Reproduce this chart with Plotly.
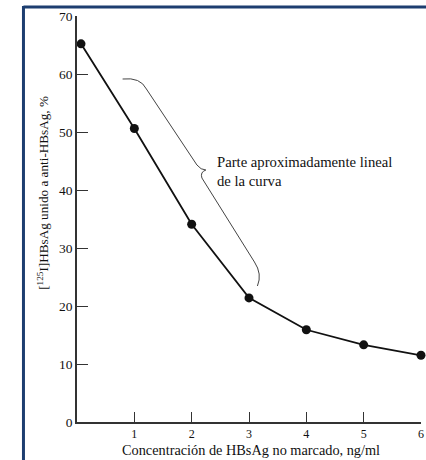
import plotly.graph_objects as go

# Data
conc = [0.07, 1, 2, 3, 4, 5, 6]
bound = [65.2, 50.6, 34.1, 21.4, 15.9, 13.3, 11.5]
x_ticks = [1, 2, 3, 4, 5, 6]
y_ticks = [0, 10, 20, 30, 40, 50, 60, 70]

W, H = 426, 460
L, R, T, B = 77, 2, 16, 38
pw, ph = W - L - R, H - T - B

def px_x(p):
    return (p - L) / pw

def px_y(p):
    return (H - B - p) / ph

SERIF = "Liberation Serif"

fig = go.Figure()
fig.add_trace(go.Scatter(
    x=conc, y=bound, mode="lines+markers",
    line=dict(color="#111111", width=1.8),
    marker=dict(color="#111111", size=9),
    cliponaxis=False, showlegend=False,
))

# brace path in data coordinates (from pixel positions)
def dx(p):
    return (p - L) / pw * 6

def dy(p):
    return (H - B - p) / ph * 70

pts = lambda a, b: f"{dx(a):.4f},{dy(b):.4f}"
brace = (
    f"M {pts(123,79)} Q {pts(141,77)} {pts(147,89)} "
    f"L {pts(198,165)} Q {pts(202,170)} {pts(207,170)} "
    f"Q {pts(201,172)} {pts(203,178)} "
    f"L {pts(256,262)} Q {pts(264,274)} {pts(259,286)}"
)

shapes = [
    dict(type="path", path=brace, xref="x", yref="y",
         line=dict(color="#444444", width=1)),
    dict(type="line", xref="paper", yref="paper",
         x0=px_x(23), x1=px_x(430), y0=px_y(7), y1=px_y(7),
         line=dict(color="#1d3e70", width=3)),
    dict(type="line", xref="paper", yref="paper",
         x0=px_x(23), x1=px_x(23), y0=px_y(6), y1=px_y(465),
         line=dict(color="#1d3e70", width=3)),
]

annotations = [
    dict(text="Parte aproximadamente lineal<br>de la curva",
         x=px_x(216), y=px_y(152), xref="paper", yref="paper",
         xanchor="left", yanchor="top", align="left", showarrow=False,
         font=dict(family=SERIF, size=14.7, color="#111111")),
    dict(text="Concentración de HBsAg no marcado, ng/ml",
         x=px_x(253), y=px_y(449.5), xref="paper", yref="paper",
         xanchor="center", yanchor="middle", showarrow=False,
         font=dict(family=SERIF, size=14.3, color="#111111")),
    dict(text="[<sup>125</sup>I]HBsAg unido a anti-HBsAg, %",
         x=px_x(43), y=px_y(192.5), xref="paper", yref="paper",
         xanchor="center", yanchor="middle", textangle=-90, showarrow=False,
         font=dict(family=SERIF, size=13.2, color="#111111")),
]

fig.update_layout(
    width=W, height=H,
    margin=dict(l=L, r=R, t=T, b=B),
    paper_bgcolor="white", plot_bgcolor="white",
    shapes=shapes, annotations=annotations,
    font=dict(family=SERIF, color="#111111"),
)
fig.update_xaxes(
    range=[0, 6], tickvals=x_ticks, ticks="inside", ticklen=10,
    tickwidth=1.2, tickcolor="#333333", showline=True, linecolor="#333333",
    linewidth=1.5, showgrid=False, zeroline=False, ticklabeloverflow="allow",
    tickfont=dict(family=SERIF, size=12, color="#111111"),
)
fig.update_yaxes(
    range=[0, 70], tickvals=y_ticks, ticks="inside", ticklen=11,
    tickwidth=1.2, tickcolor="#333333", showline=True, linecolor="#333333",
    linewidth=1.5, showgrid=False, zeroline=False,
    tickfont=dict(family=SERIF, size=13.5, color="#111111"),
)

fig.write_html("out.html", config={"displayModeBar": False},
               post_script="document.body.style.margin='0';")
